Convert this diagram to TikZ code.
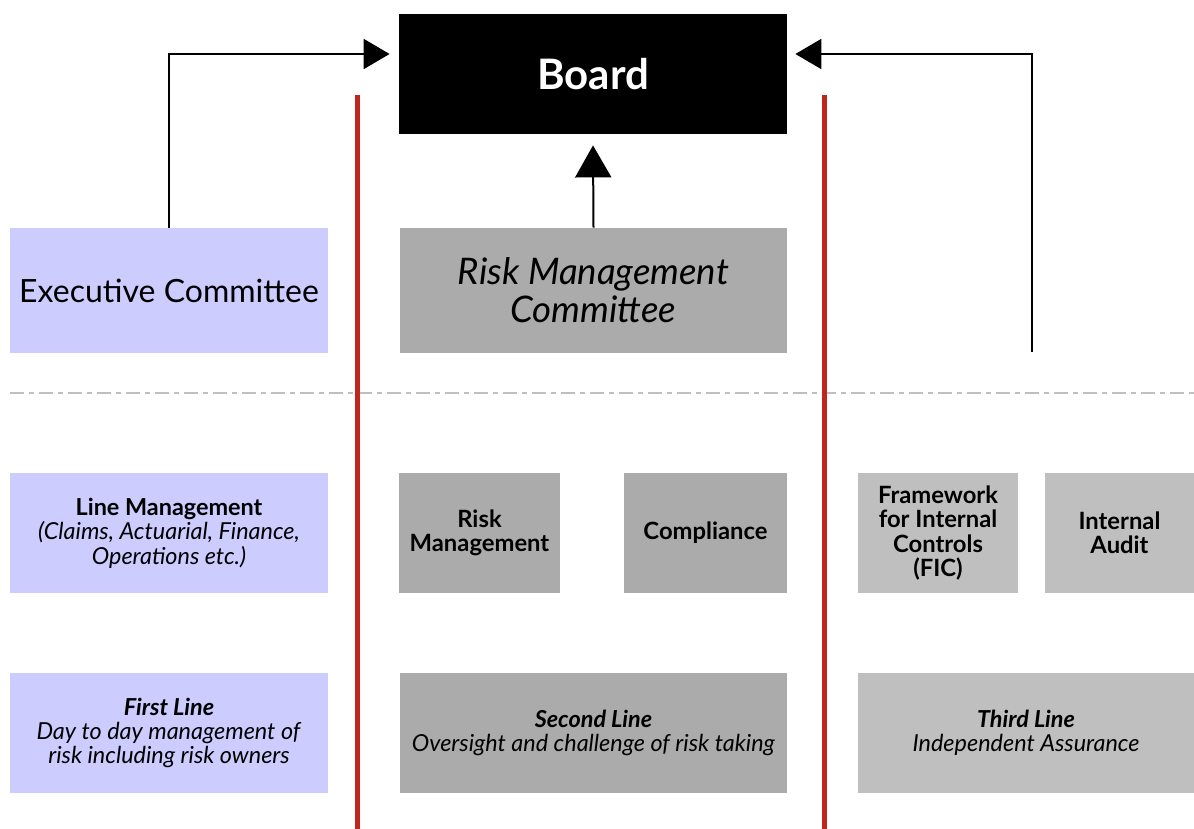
\documentclass[tikz,border=0pt]{standalone}
\usepackage{fontspec}
\setmainfont{Lato}
\usetikzlibrary{arrows.meta}
\definecolor{lav}{HTML}{CCCCFF}
\definecolor{greyA}{HTML}{ABABAB}
\definecolor{greyB}{HTML}{BFBFBF}
\definecolor{redline}{HTML}{C0261C}
\begin{document}
\begin{tikzpicture}[x=0.5pt,y=-0.5pt,
	box/.style={inner sep=0pt,align=center,font=\fontsize{11.7}{12.2}\selectfont},
	lavbox/.style={box,fill=lav,minimum height=60pt},
	darkbox/.style={box,fill=greyA,minimum height=60pt},
	lightbox/.style={box,fill=greyB,minimum height=60pt},
	boldtext/.style={font=\fontsize{11.9}{12.2}\selectfont\bfseries},
	link/.style={line width=1pt,-{Triangle[length=13pt,width=15pt]}},
	wall/.style={redline,line width=2.5pt}]
	\useasboundingbox (0,0) rectangle (1194,829);
	% top level
	\path (593,74) node[box,fill=black,text=white,minimum width=194pt,minimum height=60pt,font=\fontsize{21}{24}\selectfont\bfseries] (board) {Board};
	\path (169,290.5) node[lavbox,minimum width=159pt,minimum height=62.5pt,font=\fontsize{16}{18}\selectfont] (exec) {Executive Committee};
	\path (593.5,290.5) node[darkbox,minimum width=193.5pt,minimum height=62.5pt,font=\fontsize{18.3}{19}\selectfont\itshape] (rmc) {Risk Management\\Committee};
	\coordinate (audittop) at (1032,352);
	% the three lines
	\path (169,533) node[lavbox,minimum width=159pt] (linemgmt) {\textbf{Line Management}\\\textit{(Claims, Actuarial, Finance,}\\\textit{Operations etc.)}};
	\path (479.5,533) node[darkbox,boldtext,minimum width=80.5pt] (riskmgmt) {Risk\\Management};
	\path (705.5,533) node[darkbox,boldtext,minimum width=81.5pt] (compl) {Compliance};
	\path (938,533) node[lightbox,boldtext,minimum width=80pt] (fic) {Framework\\for Internal\\Controls\\(FIC)};
	\path (1119.5,533) node[lightbox,boldtext,minimum width=74.5pt] (audit) {Internal\\Audit};
	\path (169,733) node[lavbox,minimum width=159pt] (first) {\textbf{\textit{First Line}}\\\textit{Day to day management of}\\\textit{risk including risk owners}};
	\path (593.5,733) node[darkbox,minimum width=193.5pt] (second) {\textbf{\textit{Second Line}}\\\textit{Oversight and challenge of risk taking}};
	\path (1026,733) node[lightbox,minimum width=168pt] (third) {\textbf{\textit{Third Line}}\\\textit{Independent Assurance}};
	% reporting lines
	\draw[link] (exec.north) |- ([xshift=-4.5pt,yshift=10pt]board.west);
	\draw[link] (audittop) |- ([xshift=4pt,yshift=10pt]board.east);
	\draw[link,-{Triangle[length=16pt,width=18pt]}] (rmc.north) -- ([yshift=-5.5pt]board.south);
	% separators
	\draw[greyB,line width=1pt,dash pattern=on 7pt off 2.5pt on 2.5pt off 2.5pt] (10,393) -- (1194,393);
	\draw[wall] (357,95) -- (357,829);
	\draw[wall] (824,95) -- (824,829);
\end{tikzpicture}
\end{document}
